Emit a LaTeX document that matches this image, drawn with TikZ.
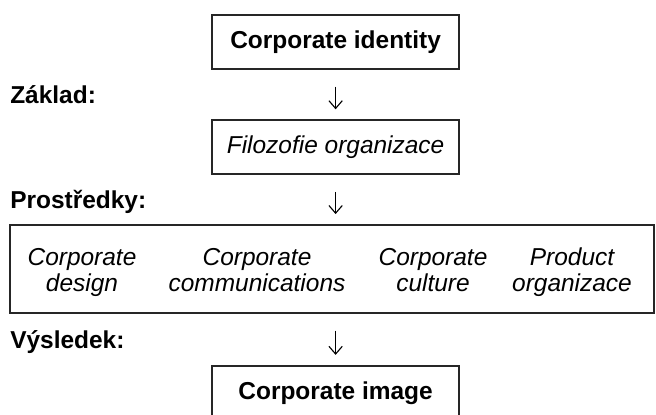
\documentclass[tikz,border=0pt]{standalone}
\usepackage{fontspec}
\setmainfont{Liberation Sans}
\usetikzlibrary{arrows.meta}

\begin{document}
\begin{tikzpicture}[
        stagebox/.style={draw=black!85, line width=1.3pt, inner sep=0pt,
                         minimum width=6.175cm, minimum height=1.35cm},
        boldbox/.style={stagebox, font=\fontsize{17.4}{20}\selectfont\bfseries},
        itbox/.style={stagebox, font=\fontsize{17.4}{20}\selectfont\itshape},
        stagename/.style={anchor=west, inner sep=0pt, font=\fontsize{17.4}{20}\selectfont\bfseries},
        tool/.style={align=center, inner sep=0pt, font=\fontsize{17.4}{18.6}\selectfont\itshape},
        step arrow/.style={-{Straight Barb[length=5.5pt,width=9.5pt]}, line width=0.8pt,
                           shorten <=0.42cm, shorten >=0.25cm}]
    \useasboundingbox (0,0) rectangle (16.4,-10.35);

    % stages
    \node[boldbox] (identity) at (8.39,-1.05) {Corporate identity};
    \node[itbox] (philosophy) at (8.39,-3.68) {Filozofie organizace};
    \node[stagebox, minimum width=16.1cm, minimum height=2.2cm] (means) at (8.3,-6.725) {};
    \node[boldbox] (image) at (8.39,-9.82) {Corporate image};

    % names on the left
    \node[stagename] (basis) at (0.25,-2.375) {Základ:};
    \node[stagename] (tools) at (0.25,-5.05) {Prostředky:};
    \node[stagename] (result) at (0.25,-8.55) {Výsledek:};

    % the four means
    \node[tool] (design) at (2.05,-6.825) {\strut Corporate\\\strut design};
    \node[tool] (communications) at (6.425,-6.825) {\strut Corporate\\\strut communications};
    \node[tool] (culture) at (10.825,-6.825) {\strut Corporate\\\strut culture};
    \node[tool] (product) at (14.3,-6.825) {\strut Product\\\strut organizace};

    \draw[step arrow] (identity) -- (philosophy);
    \draw[step arrow] (philosophy) -- (philosophy |- means.north);
    \draw[step arrow] (means.south -| image.north) -- (image);
\end{tikzpicture}
\end{document}
